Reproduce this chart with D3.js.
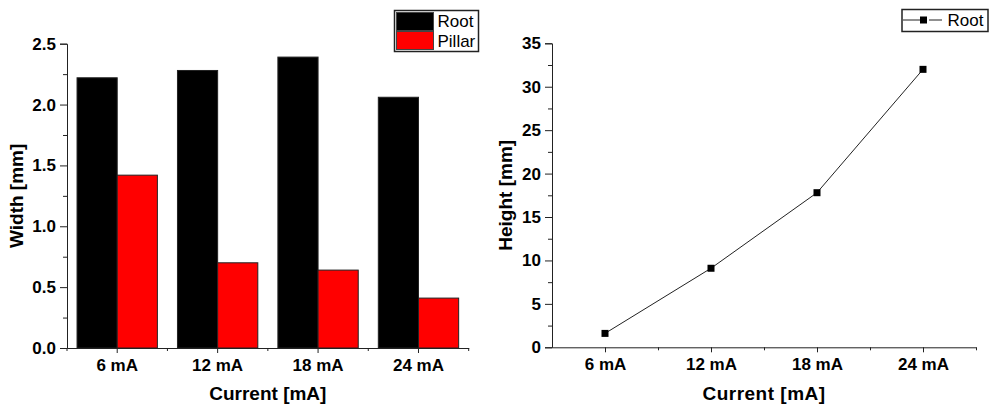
<!DOCTYPE html>
<html><head><meta charset="utf-8">
<script src="https://cdn.jsdelivr.net/npm/d3@7"></script>
<style>body{margin:0;background:#fff}svg{display:block;font-family:Arial,"Liberation Sans",sans-serif}</style>
</head><body>
<svg id="c" width="989" height="408"></svg>
<script>
const categories = ["6 mA","12 mA","18 mA","24 mA"];
const rootWidth = [2.22, 2.28, 2.39, 2.06];
const pillarWidth = [1.42, 0.70, 0.64, 0.41];
const rootHeight = [1.6, 9.1, 17.8, 32.0];
const widthTicks = [0, 0.5, 1.0, 1.5, 2.0, 2.5];
const heightTicks = [0, 5, 10, 15, 20, 25, 30, 35];

const svg = d3.select("#c");
const axisColor = "#222";

// ---------- Left: grouped bars ----------
const L = {x0: 67, x1: 468.7, y0: 348, y1: 43.7};
const xb = d3.scaleBand().domain(categories).range([L.x0, L.x1]);
const yw = d3.scaleLinear().domain([0, 2.5]).range([L.y0, L.y1]);
const gL = svg.append("g");
const barW = xb.bandwidth() * 0.4;
const series = [{name:"Root", vals: rootWidth, color:"#000", off:-1},
                {name:"Pillar", vals: pillarWidth, color:"#ff0000", off:0}];
series.forEach(s => {
  gL.selectAll(null).data(categories).enter().append("rect")
    .attr("x", (d) => xb(d) + xb.bandwidth()/2 + s.off*barW)
    .attr("y", (d,i) => yw(s.vals[i]))
    .attr("width", barW)
    .attr("height", (d,i) => yw(0) - yw(s.vals[i]))
    .attr("fill", s.color).attr("stroke", "#222").attr("stroke-width", 1);
});
gL.append("g").attr("transform", `translate(${L.x0},0)`)
  .call(d3.axisLeft(yw).tickValues(widthTicks).tickFormat(d3.format(".1f")).tickSize(7).tickPadding(4));
gL.append("g").attr("transform", `translate(${L.x0},0)`)
  .call(d3.axisLeft(yw).tickValues(d3.range(0.25, 2.5, 0.5)).tickFormat("").tickSize(4))
  .select(".domain").remove();
gL.append("g").attr("transform", `translate(0,${L.y0})`)
  .call(d3.axisBottom(xb).tickSize(5).tickPadding(6).tickSizeOuter(0));
const minorL = categories.slice(1).map(c => xb(c)).concat([L.x0, L.x1]);
gL.selectAll(null).data(minorL).enter().append("line")
  .attr("x1", d=>d).attr("x2", d=>d).attr("y1", L.y0).attr("y2", L.y0+3)
  .attr("stroke", axisColor);
gL.append("text").attr("x", (L.x0+L.x1)/2).attr("y", 400).attr("text-anchor","middle")
  .attr("font-size", 19).attr("font-weight","bold").text("Current [mA]");
gL.append("text").attr("transform", `translate(23,${(L.y0+L.y1)/2}) rotate(-90)`)
  .attr("text-anchor","middle").attr("font-size", 19).attr("font-weight","bold").text("Width [mm]");
const lg = gL.append("g");
lg.append("rect").attr("x",394.5).attr("y",10.5).attr("width",84).attr("height",41)
  .attr("fill","#fff").attr("stroke","#222").attr("stroke-width",1.5);
series.forEach((s,i) => {
  lg.append("rect").attr("x",396.5).attr("y",12.5+i*19).attr("width",37).attr("height",18)
    .attr("fill",s.color).attr("stroke","#444").attr("stroke-width",1);
  lg.append("text").attr("x",437.5).attr("y",27+i*20).attr("font-size",17).text(s.name);
});

// ---------- Right: line ----------
const R = {x0: 552, x1: 976, y0: 347.3, y1: 43.3};
const xl = d3.scaleLinear().domain([0.5, 4.5]).range([R.x0, R.x1]);
const yh = d3.scaleLinear().domain([0, 35]).range([R.y0, R.y1]);
const gR = svg.append("g");
gR.append("g").attr("transform", `translate(${R.x0},0)`)
  .call(d3.axisLeft(yh).tickValues(heightTicks).tickSize(7).tickPadding(4));
gR.append("g").attr("transform", `translate(${R.x0},0)`)
  .call(d3.axisLeft(yh).tickValues(d3.range(2.5, 35, 5)).tickFormat("").tickSize(4))
  .select(".domain").remove();
gR.append("g").attr("transform", `translate(0,${R.y0})`)
  .call(d3.axisBottom(xl).tickValues([1,2,3,4]).tickFormat((d,i)=>categories[i]).tickSize(5).tickPadding(6).tickSizeOuter(0));
gR.append("g").attr("transform", `translate(0,${R.y0})`)
  .call(d3.axisBottom(xl).tickValues([1.5,2.5,3.5,4.5]).tickFormat("").tickSize(3))
  .select(".domain").remove();
const pts = categories.map((c,i)=>({x:i+1, y:rootHeight[i]}));
gR.append("path").datum(pts)
  .attr("d", d3.line().x(d=>xl(d.x)).y(d=>yh(d.y)))
  .attr("fill","none").attr("stroke","#222").attr("stroke-width",1);
gR.selectAll(null).data(pts).enter().append("rect")
  .attr("x", d=>xl(d.x)-3.5).attr("y", d=>yh(d.y)-3.5).attr("width",7).attr("height",7).attr("fill","#000");
gR.append("text").attr("x", (R.x0+R.x1)/2).attr("y", 400).attr("text-anchor","middle")
  .attr("font-size", 19).attr("font-weight","bold").attr("letter-spacing", 0.5).text("Current [mA]");
gR.append("text").attr("transform", `translate(512,${(R.y0+R.y1)/2}) rotate(-90)`)
  .attr("text-anchor","middle").attr("font-size", 19).attr("font-weight","bold").text("Height [mm]");
const lg2 = gR.append("g");
lg2.append("rect").attr("x",902).attr("y",9.5).attr("width",86).attr("height",22)
  .attr("fill","#fff").attr("stroke","#222").attr("stroke-width",1.5);
lg2.append("line").attr("x1",903).attr("x2",920).attr("y1",20).attr("y2",20).attr("stroke","#222");
lg2.append("line").attr("x1",929).attr("x2",942).attr("y1",20).attr("y2",20).attr("stroke","#222");
lg2.append("rect").attr("x",920).attr("y",16.5).attr("width",7).attr("height",7).attr("fill","#000");
lg2.append("text").attr("x",947.5).attr("y",26).attr("font-size",17).text("Root");

svg.selectAll(".tick text").attr("font-size", 17).attr("font-weight","bold").attr("fill","#000")
  .attr("font-family","Arial,'Liberation Sans',sans-serif");
svg.selectAll(".domain, .tick line").attr("stroke", axisColor);
</script>
</body></html>
